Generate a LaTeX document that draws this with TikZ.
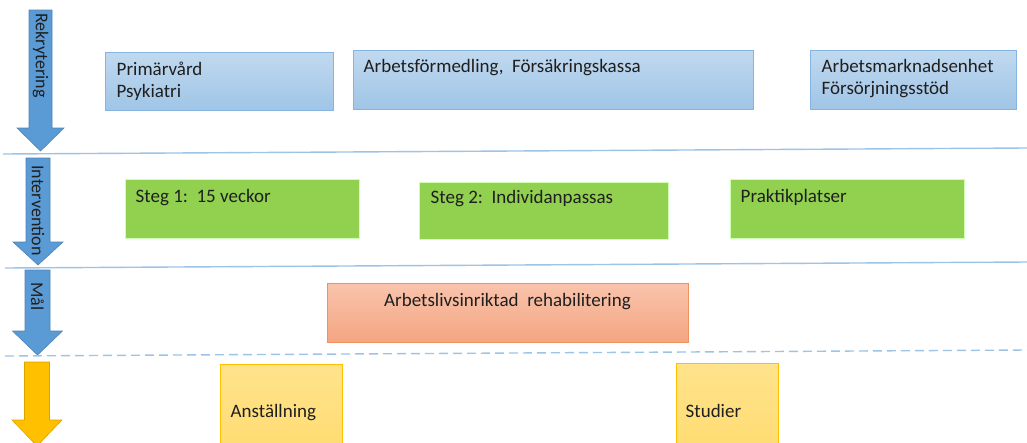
\documentclass[tikz,border=0pt]{standalone}
\usepackage{fontspec}
\setmainfont{Carlito}
\usetikzlibrary{fit}

\definecolor{phaseblue}{HTML}{5B9BD5}
\definecolor{phasegold}{HTML}{FFC000}
\definecolor{sepcol}{HTML}{9DC3E6}
\definecolor{txtcol}{HTML}{1F1F1F}

\begin{document}
\begin{tikzpicture}[x=1pt, y=-1pt]
	\tikzset{every node/.style={inner sep=0pt, text=txtcol, font=\fontsize{19}{22}\selectfont},
		bluebox/.style={draw=phaseblue!75, line width=1pt, top color=phaseblue!38, bottom color=phaseblue!58},
		greenbox/.style={draw=green!50!lime!30, fill={rgb,255:red,146;green,208;blue,80}, line width=1pt},
		redbox/.style={draw={rgb,255:red,240;green,146;blue,96}, line width=1pt, top color={rgb,255:red,249;green,196;blue,172}, bottom color={rgb,255:red,244;green,165;blue,130}},
		goldbox/.style={draw=phasegold, line width=1pt, top color=phasegold!45, bottom color=phasegold!55},
		boxtext/.style={anchor=base west, align=left},
		phaselabel/.style={rotate=-90, anchor=west, font=\fontsize{18}{20}\selectfont},
		sepline/.style={draw=sepcol, line width=1.4pt}}
	\useasboundingbox (0,0) rectangle (1027,442);

	% phase arrows
	\foreach \cx/\ya/\yb/\yc/\sw/\hw/\col in {40.5/10/128/151/11.5/23.5/phaseblue, 38/158/242/265/12/25/phaseblue, 37.5/270/331/355/12.5/25/phaseblue, 37/362/420/446/12.5/25/phasegold}
		\filldraw[fill=\col, draw=\col!85!black, line width=0.6pt] (\cx-\sw,\ya) -- (\cx+\sw,\ya) -- (\cx+\sw,\yb) -- (\cx+\hw,\yb) -- (\cx,\yc) -- (\cx-\hw,\yb) -- (\cx-\sw,\yb) -- cycle;
	\node[phaselabel] (rekr) at (40.5,13) {Rekrytering};
	\node[phaselabel] (interv) at (38,165) {Intervention};
	\node[phaselabel] (mal) at (37.5,282) {Mål};

	% separators
	\draw[sepline] (3,154) -- (1027,148);
	\draw[sepline] (5,268) -- (1027,262);
	\draw[sepline, dash pattern=on 9pt off 5pt] (5,356) -- (1027,350);

	% rekrytering
	\node[bluebox, fit={(105,52) (333,110)}] (prim) {};
	\node[boxtext] at ([xshift=12pt, yshift=-46pt]prim.north west) {Primärvård\\Psykiatri};
	\node[bluebox, fit={(353,50) (753,109)}] (afkassa) {};
	\node[boxtext] at ([xshift=11pt, yshift=-23pt]afkassa.north west) {Arbetsförmedling,\ \ Försäkringskassa};
	\node[bluebox, fit={(810,50) (1016,109)}] (amenhet) {};
	\node[boxtext] at ([xshift=12pt, yshift=-45pt]amenhet.north west) {Arbetsmarknadsenhet\\Försörjningsstöd};

	% intervention
	\node[greenbox, fit={(125,179) (359,238)}] (steg1) {};
	\node[boxtext] at ([xshift=11pt, yshift=-24pt]steg1.north west) {Steg 1:\ \ 15 veckor};
	\node[greenbox, fit={(419,182) (668,239)}] (steg2) {};
	\node[boxtext] at ([xshift=12pt, yshift=-22pt]steg2.north west) {Steg 2:\ \ Individanpassas};
	\node[greenbox, fit={(730,179) (964,238)}] (praktik) {};
	\node[boxtext] at ([xshift=11pt, yshift=-24pt]praktik.north west) {Praktikplatser};

	% mal
	\node[redbox, fit={(327,283) (688,342)}] (rehab) {};
	\node[anchor=base] at ([yshift=-24pt]rehab.north) {Arbetslivsinriktad\ \ rehabilitering};

	% utfall
	\node[goldbox, fit={(220,364) (342,450)}] (anst) {};
	\node[boxtext] at ([xshift=11pt, yshift=-54pt]anst.north west) {Anställning};
	\node[goldbox, fit={(676,363) (778,450)}] (studier) {};
	\node[boxtext] at ([xshift=10pt, yshift=-55pt]studier.north west) {Studier};
\end{tikzpicture}
\end{document}
